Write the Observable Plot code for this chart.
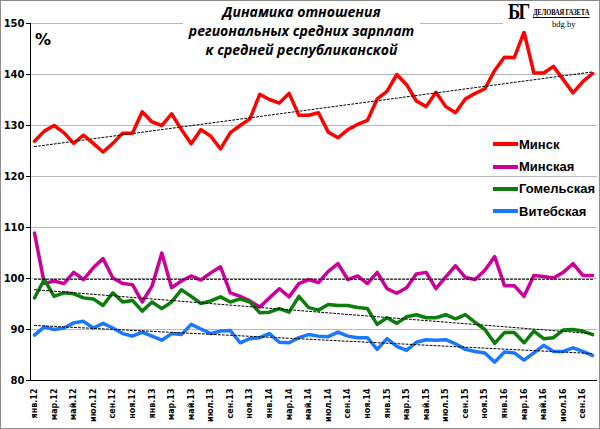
<!DOCTYPE html>
<html>
<head>
<meta charset="utf-8">
<script src="https://cdn.jsdelivr.net/npm/d3@7"></script>
<script src="https://cdn.jsdelivr.net/npm/@observablehq/plot@0.6"></script>
<style>
  body { margin: 0; background: #fff; }
  #chart { position: relative; width: 600px; height: 429px; overflow: hidden; font-family: "Liberation Sans", Arial, sans-serif; }
  #frame { position: absolute; left: 0; top: 0; width: 600px; height: 429px; box-sizing: border-box; border: 1px solid #8c8c8c; pointer-events: none; }
  #title { position: absolute; left: 183px; top: 2px; width: 237px; background: #fff; text-align: center; white-space: nowrap;
           font: italic bold 14px/19px "Open Sans", "DejaVu Sans", sans-serif; color: #000; padding-bottom: 2px; }
  #pct { position: absolute; left: 35px; top: 30px; font: bold 16px "DejaVu Sans", sans-serif; }
  #logo { position: absolute; left: 503px; top: 0; width: 96px; height: 31px; background: #fff; font-family: "Liberation Serif", "DejaVu Serif", serif; }
  #logo .bg { position: absolute; left: 5px; top: -1px; font-weight: bold; font-size: 23px; letter-spacing: -2px; transform: scaleX(.8); transform-origin: left top; }
  #logo .name { position: absolute; left: 30px; top: 8px; font-weight: bold; font-size: 8px; letter-spacing: -0.2px; border-bottom: 1px solid #000; white-space: nowrap; transform: scaleX(.82); transform-origin: left top; }
  #logo .site { position: absolute; left: 49px; top: 19px; font-size: 8.5px; }
  #legend { position: absolute; left: 493px; top: 133px; }
  #legend .item { display: flex; align-items: center; height: 22.4px; font: bold 13px "Liberation Sans", Arial, sans-serif; }
  #legend .sw { width: 25px; height: 4px; margin-right: 1px; }
</style>
</head>
<body>
<div id="chart">
  <div id="plot"></div>
  <div id="title">Динамика отношения<br>региональных средних зарплат<br>к средней республиканской</div>
  <div id="pct">%</div>
  <div id="logo"><span class="bg">БГ</span><span class="name">ДЕЛОВАЯ ГАЗЕТА</span><span class="site">bdg.by</span></div>
  <div id="legend"></div>
  <div id="frame"></div>
</div>
<script>
// Jan 2012 .. Oct 2016, % of national average wage
const minsk = [126.9, 128.9, 130.0, 128.6, 126.5, 128.1, 126.5, 124.8, 126.5, 128.5, 128.5, 132.7,
  130.7, 130.0, 132.3, 129.2, 126.4, 129.2, 127.9, 125.4, 128.6, 130.0, 131.3, 136.1,
  135.1, 134.4, 136.3, 132.0, 132.0, 132.5, 128.7, 127.6, 129.2, 130.2, 131.0, 135.2,
  136.7, 140.0, 138.0, 134.8, 133.7, 136.5, 133.7, 132.5, 135.2, 136.3, 137.2, 140.8,
  143.4, 143.3, 148.3, 140.3, 140.3, 141.6, 139.0, 136.4, 138.6, 140.2];
const minskaya = [108.9, 99.0, 99.5, 99.0, 101.2, 99.8, 102.1, 103.9, 100.1, 99.0, 98.8, 95.4,
  98.5, 105.0, 98.2, 99.5, 100.5, 99.7, 101.1, 102.3, 97.2, 96.5, 95.6, 94.4,
  96.2, 98.0, 96.4, 99.0, 99.8, 99.2, 101.4, 102.9, 99.8, 100.5, 99.0, 101.2,
  98.0, 97.1, 98.2, 100.9, 101.2, 98.0, 100.3, 102.5, 100.2, 99.8, 101.6, 104.3,
  98.6, 98.6, 96.5, 100.6, 100.4, 100.1, 101.2, 102.9, 100.6, 100.6];
const gomel = [96.2, 99.8, 96.5, 97.2, 97.0, 96.2, 96.0, 94.7, 97.2, 95.4, 95.7, 93.6,
  95.4, 94.1, 95.4, 97.8, 96.5, 95.1, 95.6, 96.4, 95.4, 96.0, 95.4, 93.3,
  93.4, 94.1, 93.4, 96.5, 94.3, 93.8, 94.9, 94.7, 94.7, 94.3, 94.1, 91.0,
  92.3, 91.2, 92.5, 92.9, 92.3, 92.3, 92.9, 92.1, 92.9, 91.4, 90.0, 87.3,
  89.4, 89.4, 87.4, 89.7, 88.2, 88.4, 89.9, 90.0, 89.7, 89.0];
const vitebsk = [88.9, 90.5, 90.0, 90.3, 91.3, 91.6, 90.3, 91.2, 90.3, 89.2, 88.7, 89.5,
  88.7, 87.9, 89.2, 89.0, 91.0, 90.1, 89.2, 89.7, 89.8, 87.4, 88.2, 88.4,
  89.2, 87.5, 87.4, 88.4, 89.0, 88.7, 88.6, 89.5, 88.7, 88.4, 88.4, 86.1,
  88.2, 86.7, 85.9, 87.5, 88.0, 87.9, 88.0, 87.2, 86.1, 85.7, 85.4, 83.6,
  85.6, 85.4, 84.0, 85.4, 86.9, 85.7, 85.7, 86.4, 85.7, 84.9];

const tickLabels = ["янв.12", "мар.12", "май.12", "июл.12", "сен.12", "ноя.12",
  "янв.13", "мар.13", "май.13", "июл.13", "сен.13", "ноя.13",
  "янв.14", "мар.14", "май.14", "июл.14", "сен.14", "ноя.14",
  "янв.15", "мар.15", "май.15", "июл.15", "сен.15", "ноя.15",
  "янв.16", "мар.16", "май.16", "июл.16", "сен.16"];
const yTicks = [80, 90, 100, 110, 120, 130, 140, 150];

const seriesNames = ["Минск", "Минская", "Гомельская", "Витебская"];
const seriesColors = ["#ff0000", "#cc0099", "#0a7d0a", "#1a78ff"];
const seriesValues = [minsk, minskaya, gomel, vitebsk];

const rows = seriesNames.flatMap((name, k) =>
  seriesValues[k].map((v, i) => ({ name, i, v })));
const xTicks = tickLabels.map((_, j) => j * 2);
const xDomain = [-0.41, 57.5];

const chart = Plot.plot({
  width: 600,
  height: 429,
  marginTop: 23,
  marginBottom: 49,
  marginLeft: 30,
  marginRight: 3,
  style: { background: "transparent", fontFamily: "DejaVu Sans, sans-serif", color: "#000" },
  x: { domain: xDomain, label: null },
  y: { domain: [80, 150], label: null },
  color: { domain: seriesNames, range: seriesColors },
  marks: [
    Plot.gridY(yTicks, { stroke: "#b9b9b9", strokeOpacity: 1 }),
    Plot.axisY(yTicks, { tickSize: 4, tickPadding: 2, fontWeight: "bold", fontSize: 10 }),
    Plot.axisX(xTicks, {
      tickSize: 0, tickPadding: 8, tickRotate: -90, fontWeight: "bold", fontSize: 8,
      tickFormat: i => tickLabels[i / 2]
    }),
    Plot.ruleY([80], { stroke: "#000" }),
    Plot.ruleX([xDomain[0]], { stroke: "#000" }),
    Plot.line(rows, { x: "i", y: "v", z: "name", stroke: "name", strokeWidth: 3.5, strokeLinejoin: "round" }),
    Plot.linearRegressionY(rows, { x: "i", y: "v", z: "name", stroke: "#000", strokeWidth: 1, strokeDasharray: "2,2", ci: 0 })
  ]
});
document.getElementById("plot").appendChild(chart);

const legend = document.getElementById("legend");
seriesNames.forEach((name, k) => {
  const item = document.createElement("div");
  item.className = "item";
  item.innerHTML = `<span class="sw" style="background:${seriesColors[k]}"></span>${name}`;
  legend.appendChild(item);
});
</script>
</body>
</html>
